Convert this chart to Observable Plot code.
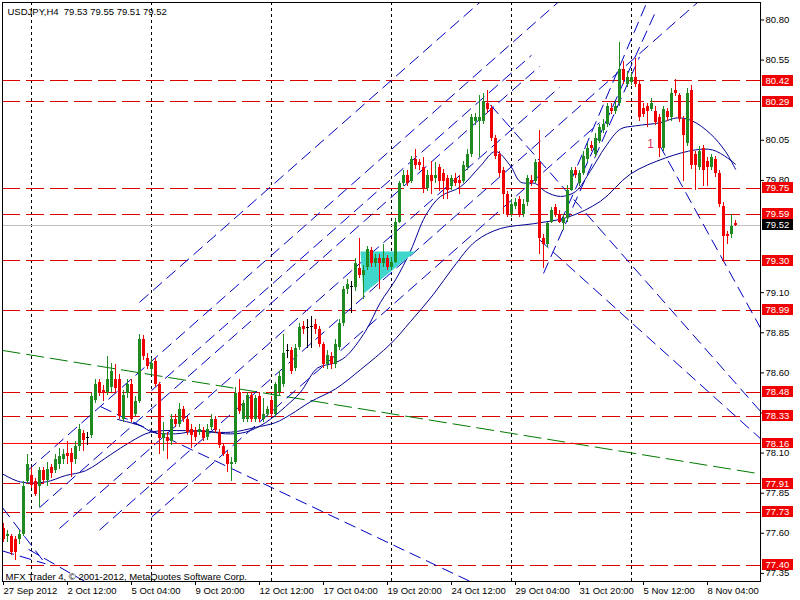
<!DOCTYPE html>
<html><head><meta charset="utf-8">
<script src="https://cdn.jsdelivr.net/npm/d3@7"></script>
<script src="https://cdn.jsdelivr.net/npm/@observablehq/plot@0.6"></script>
<style>body{margin:0;background:#fff}#chart svg{display:block}</style>
</head><body><div id="chart"></div>
<script>
// ---- DATA (H4 bars, bar index 0 = Mon 1 Oct 2012 00:00) ----
const firstBar = -7;
const opens = [77.63,77.58,77.58,77.56,77.56,77.59,77.92,
77.96,77.92,77.89,77.99,77.93,78.01,77.99,78.03,78.06,78.10,
78.10,78.06,78.14,78.22,78.20,78.21,78.43,78.54,78.49,78.48,
78.51,78.56,78.56,78.31,78.47,78.53,78.34,78.42,78.81,78.69,
78.62,78.67,78.53,78.19,78.20,78.17,78.31,78.28,78.37,78.31,
78.25,78.24,78.23,78.24,78.20,78.26,78.31,78.23,78.14,78.09,
78.03,78.04,78.48,78.31,78.31,78.46,78.31,78.45,78.31,78.34,
78.43,78.34,78.48,78.53,78.74,78.74,78.63,78.76,78.89,78.88,
78.89,78.90,78.87,78.78,78.65,78.70,78.65,78.76,78.91,79.12,
79.14,79.13,79.25,79.21,79.26,79.36,79.28,79.31,79.28,79.31,
79.26,79.29,79.54,79.78,79.83,79.79,79.93,79.91,79.88,79.75,
79.83,79.81,79.88,79.84,79.81,79.76,79.81,79.80,79.79,79.88,
79.96,80.17,80.17,80.17,80.28,80.25,80.06,79.96,79.86,79.71,
79.59,79.64,79.68,79.59,79.66,79.80,79.79,79.91,79.44,79.40,
79.54,79.63,79.59,79.53,79.56,79.74,79.86,79.78,79.84,79.93,
80.02,79.96,80.04,80.11,80.15,80.25,80.23,80.28,80.49,80.40,
80.41,80.44,80.40,80.25,80.26,80.24,80.23,80.19,80.00,80.23,
80.19,80.36,80.33,80.18,80.03,80.36,79.96,79.88,80.00,79.92,
79.88,79.93,79.84,79.64,79.46,79.46,79.53];
const highs = [77.66,77.62,77.59,77.58,77.62,77.92,78.09,
78.01,77.94,78.01,78.01,78.04,78.03,78.09,78.13,78.12,78.17,
78.13,78.17,78.28,78.24,78.23,78.47,78.56,78.56,78.52,78.70,
78.66,78.65,78.59,78.49,78.56,78.56,78.45,78.84,78.83,78.72,
78.69,78.69,78.54,78.29,78.23,78.34,78.34,78.41,78.39,78.33,
78.28,78.26,78.28,78.26,78.28,78.34,78.33,78.25,78.16,78.11,
78.07,78.51,78.56,78.43,78.48,78.48,78.46,78.47,78.44,78.39,
78.45,78.54,78.61,78.84,78.78,78.76,78.78,78.91,78.92,78.93,
78.95,78.93,78.89,78.79,78.74,78.73,78.81,78.93,79.14,79.18,
79.17,79.31,79.44,79.27,79.39,79.38,79.34,79.34,79.40,79.33,
79.32,79.56,79.79,79.86,79.86,79.95,79.99,79.93,79.94,79.86,
79.92,79.91,79.90,79.87,79.83,79.83,79.84,79.83,79.92,79.99,
80.21,80.22,80.33,80.34,80.36,80.27,80.08,79.98,79.88,79.73,
79.68,79.69,79.70,79.68,79.83,79.83,79.93,80.11,79.46,79.54,
79.63,79.65,79.61,79.59,79.77,79.88,79.88,79.86,79.98,80.03,
80.04,80.09,80.15,80.18,80.28,80.28,80.29,80.66,80.54,80.48,
80.47,80.56,80.42,80.28,80.28,80.31,80.26,80.21,80.26,80.25,
80.37,80.43,80.34,80.20,80.37,80.39,79.98,80.01,80.02,79.94,
79.96,79.95,79.86,79.66,79.48,79.59,79.55];
const lows = [77.54,77.54,77.46,77.43,77.53,77.58,77.91,
77.88,77.83,77.76,77.91,77.89,77.94,77.97,78.00,78.03,78.03,
77.95,78.03,78.11,78.11,78.15,78.19,78.41,78.45,78.42,78.46,
78.48,78.47,78.31,78.29,78.44,78.29,78.33,78.41,78.68,78.62,
78.59,78.51,78.09,78.11,78.06,78.15,78.26,78.26,78.29,78.21,
78.13,78.17,78.21,78.17,78.18,78.24,78.22,78.13,78.08,77.98,
77.92,78.03,78.34,78.29,78.29,78.29,78.29,78.29,78.29,78.32,
78.32,78.32,78.46,78.51,78.69,78.59,78.61,78.74,78.84,78.75,
78.75,78.84,78.76,78.63,78.62,78.62,78.63,78.74,78.89,79.09,
78.97,79.11,79.19,79.06,79.24,79.26,79.26,79.12,79.26,79.24,
79.24,79.28,79.53,79.76,79.76,79.78,79.87,79.86,79.72,79.73,
79.71,79.78,79.73,79.68,79.68,79.74,79.76,79.71,79.78,79.86,
79.94,80.14,79.94,80.15,80.22,80.04,79.93,79.82,79.59,79.57,
79.57,79.62,79.57,79.57,79.64,79.76,79.78,79.34,79.25,79.38,
79.53,79.57,79.53,79.49,79.54,79.73,79.81,79.76,79.83,79.91,
79.98,79.94,80.03,80.09,80.13,80.21,80.21,80.26,80.40,80.38,
80.39,80.38,80.17,80.19,80.13,80.23,80.14,79.94,79.98,80.17,
80.17,80.32,80.16,79.79,80.01,79.87,79.74,79.86,79.76,79.76,
79.86,79.82,79.63,79.29,79.40,79.44,79.51];
const closes = [77.56,77.59,77.48,77.48,77.59,77.89,78.03,
77.90,77.84,77.99,77.93,78.00,77.97,78.06,78.08,78.09,78.08,
78.04,78.14,78.25,78.18,78.20,78.45,78.53,78.48,78.47,78.56,
78.61,78.50,78.33,78.46,78.53,78.31,78.42,78.81,78.70,78.64,
78.66,78.53,78.19,78.22,78.17,78.31,78.28,78.37,78.31,78.23,
78.21,78.20,78.25,78.19,78.25,78.31,78.24,78.15,78.09,78.03,
78.04,78.47,78.36,78.41,78.46,78.31,78.44,78.31,78.34,78.37,
78.34,78.53,78.58,78.72,78.74,78.61,78.75,78.88,78.87,78.88,
78.89,78.87,78.78,78.65,78.71,78.65,78.78,78.91,79.12,79.15,
79.14,79.28,79.21,79.24,79.37,79.28,79.31,79.28,79.31,79.26,
79.29,79.54,79.78,79.83,79.78,79.93,79.89,79.89,79.75,79.83,
79.79,79.83,79.79,79.79,79.74,79.81,79.78,79.78,79.89,79.96,
80.19,80.19,80.19,80.29,80.24,80.06,79.95,79.84,79.71,79.59,
79.65,79.66,79.59,79.65,79.81,79.78,79.91,79.44,79.40,79.53,
79.61,79.59,79.54,79.56,79.74,79.86,79.83,79.84,79.95,80.00,
80.00,80.06,80.13,80.15,80.26,80.23,80.26,80.49,80.42,80.44,
80.44,80.40,80.19,80.21,80.23,80.28,80.16,80.00,80.24,80.19,
80.34,80.34,80.18,80.08,80.34,79.89,79.89,79.98,79.86,79.88,
79.94,79.84,79.65,79.45,79.45,79.51,79.52];

// x-axis labels (bar index -> text)
const dateBars = [-7, 9, 25, 41, 57, 73, 89, 105, 121, 137, 153, 169];
const dateLabels = ["27 Sep 2012","2 Oct 12:00","5 Oct 04:00","9 Oct 20:00","12 Oct 12:00","17 Oct 04:00",
  "19 Oct 20:00","24 Oct 12:00","29 Oct 04:00","31 Oct 20:00","5 Nov 12:00","8 Nov 04:00"];
const weekStartBars = [0, 30, 60, 90, 120, 150];
// right-axis price labels that are visible in the reference
const priceTicks = [80.80,80.55,80.05,79.80,79.10,78.85,78.60,78.35,78.10,77.85,77.60,77.35];

// horizontal levels
const dashedLevels = [80.42,80.29,79.75,79.59,79.30,78.99,78.48,78.33,77.91,77.73,77.40];
const solidLevels = [78.16];
const lastPrice = 79.52;

// blue dashed trend lines (bar, price) -> (bar, price)
const trendStartBar   = [27, -1, 30, 2, 7, 17, 30, 128, 132.25, 134.75, 114.75, 127, 157, 17.25, -7.25, -7.25, -0.75];
const trendStartPrice = [79.04, 77.99, 78.49, 77.76, 77.63, 77.62, 77.70, 79.22, 79.54, 79.79, 80.27, 79.43, 80.02, 78.39, 77.76, 77.49, 77.50];
const trendEndBar     = [113, 133, 125, 127, 132, 167, 142, 152, 156, 157.25, 182.25, 182.25, 182.25, 110.5, 3.5, 3.5, 14];
const trendEndPrice   = [80.93, 80.94, 80.58, 80.51, 80.38, 80.92, 80.16, 80.57, 80.85, 81.11, 78.36, 78.19, 78.88, 77.29, 77.41, 77.41, 77.29];
// green long trend line
const greenStartBar = [-7.25], greenStartPrice = [78.74], greenEndBar = [182.25], greenEndPrice = [77.97];

// moving averages
const maSlowBar = [-7.25,-2.75,3.5,8.5,13.5,19.75,24.75,29.75,38.5,49.75,56,61,64.75,69.75,76,82.25,89.75,94.75,100.5,105.5,111,117.25,125.5,134,142.25,149.75,158.5,166,170.25,174,176];
const maSlowPrice = [77.97,77.92,77.92,77.96,77.99,78.09,78.17,78.23,78.24,78.23,78.26,78.29,78.34,78.42,78.50,78.62,78.78,78.92,79.09,79.26,79.42,79.50,79.53,79.57,79.67,79.84,79.94,79.99,79.99,79.94,79.90];
const maFastBar = [21.5,27.25,30.25,36,42.25,48.5,53.5,58.5,63.5,67.25,71.5,75.5,78.5,83.5,87.25,91,94.75,98.5,102.25,107.25,112.25,116,119.75,122.25,126,128.5,132.25,136,139.75,143.5,147.25,151,157.25,161.5,165.25,169.75,173.5,176];
const maFastPrice = [78.31,78.27,78.23,78.22,78.24,78.22,78.23,78.29,78.39,78.48,78.63,78.66,78.70,78.86,79.04,79.18,79.36,79.58,79.70,79.76,79.89,79.98,79.89,79.79,79.78,79.73,79.70,79.73,79.86,80.01,80.12,80.14,80.16,80.19,80.17,80.09,79.98,79.87];

// cyan triangle
const triBar = [82.25, 96, 83];
const triPrice = [79.357, 79.357, 79.094];

const noteBar = [154.75], notePrice = [80.025], noteText = ["1"];
const titleText = "USDJPY,H4  79.53 79.55 79.51 79.52";
const copyText = "MFX Trader 4, \u00a9 2001-2012, MetaQuotes Software Corp.";

// ---- build tables ----
const candles = opens.map((o, k) => ({bar: firstBar + k, open: o, high: highs[k], low: lows[k], close: closes[k]}));
const upC = "#1f8a1f", downC = "#f00000";
const col = d => d.close > d.open ? upC : d.close < d.open ? downC : "#000000";
const bodies = candles.filter(d => d.close !== d.open);
const dojis = candles.filter(d => d.close === d.open);
const trends = trendStartBar.map((b, k) => ({x1: b, y1: trendStartPrice[k], x2: trendEndBar[k], y2: trendEndPrice[k]}));
const greens = greenStartBar.map((b, k) => ({x1: b, y1: greenStartPrice[k], x2: greenEndBar[k], y2: greenEndPrice[k]}));
const maSlow = maSlowBar.map((b, k) => ({bar: b, price: maSlowPrice[k]}));
const maFast = maFastBar.map((b, k) => ({bar: b, price: maFastPrice[k]}));
const tri = triBar.map((b, k) => ({bar: b, price: triPrice[k]}));
const notes = noteBar.map((b, k) => ({bar: b, price: notePrice[k], text: noteText[k]}));
const labelMap = new Map(dateBars.map((b, k) => [b, dateLabels[k]]));
const xMin = -7.25, xMax = 182.25;
const boxHalf = 0.034;
const allLevels = [...dashedLevels, ...solidLevels];
const solidRows = solidLevels.map(p => ({x1: xMin, x2: xMax, y: p}));

const chart = Plot.plot({
  width: 800, height: 600,
  marginLeft: 2, marginRight: 40, marginTop: 2, marginBottom: 19,
  style: {fontFamily: "'Liberation Sans', Arial, sans-serif", fontSize: "9.5px", background: "#ffffff", color: "#000000"},
  x: {domain: [xMin, xMax]},
  y: {domain: [77.2995, 80.909]},
  marks: [
    Plot.ruleX(weekStartBars, {stroke: "#000", strokeDasharray: "3,3", shapeRendering: "crispEdges"}),
    Plot.ruleY(dashedLevels, {stroke: "#dd0000", strokeDasharray: "18,6", shapeRendering: "crispEdges"}),
    Plot.ruleY([lastPrice], {stroke: "#c0c0c0", shapeRendering: "crispEdges"}),
    Plot.link(greens, {x1: "x1", y1: "y1", x2: "x2", y2: "y2", stroke: "#007a00", strokeWidth: 1, strokeDasharray: "18,6", clip: true}),
    Plot.link(trends, {x1: "x1", y1: "y1", x2: "x2", y2: "y2", stroke: "#0000c0", strokeWidth: 1, strokeDasharray: "12,6", clip: true}),
    Plot.line(maSlow, {x: "bar", y: "price", stroke: "#000090", strokeWidth: 1, curve: "catmull-rom", clip: true}),
    Plot.line(maFast, {x: "bar", y: "price", stroke: "#000090", strokeWidth: 1, curve: "catmull-rom", clip: true}),
    Plot.line(tri, {x: "bar", y: "price", fill: "#3fd6cc", stroke: "none"}),
    Plot.link(solidRows, {x1: "x1", x2: "x2", y1: "y", y2: "y", stroke: "red", strokeWidth: 1}),
    Plot.ruleX(candles, {x: "bar", y1: "low", y2: "high", stroke: col, shapeRendering: "crispEdges"}),
    Plot.rect(bodies, {x1: d => d.bar - 0.375, x2: d => d.bar + 0.375, y1: "open", y2: "close", fill: col, shapeRendering: "crispEdges"}),
    Plot.link(dojis, {x1: d => d.bar - 0.375, x2: d => d.bar + 0.375, y1: "open", y2: "open", stroke: "#000", shapeRendering: "crispEdges"}),
    Plot.text(notes, {x: "bar", y: "price", text: "text", fill: "#e0305a", fontSize: 12}),
    Plot.text([titleText], {frameAnchor: "top-left", dx: 5, dy: 5.5, lineAnchor: "top", textAnchor: "start", fill: "#000"}),
    Plot.text([copyText], {frameAnchor: "bottom-left", dx: 3, dy: -5, lineAnchor: "middle", textAnchor: "start", fill: "#000"}),
    Plot.axisX(dateBars, {anchor: "bottom", tickSize: 4, tickPadding: 2, textAnchor: "start", dx: 0, tickFormat: d => labelMap.get(d), label: null}),
    Plot.axisY(priceTicks, {anchor: "right", tickSize: 3, tickPadding: 2, tickFormat: d => d.toFixed(2), label: null}),
    Plot.rect(allLevels, {x1: xMax + 0.5, x2: xMax + 8.25, y1: d => d - boxHalf, y2: d => d + boxHalf, fill: "#f00000", shapeRendering: "crispEdges"}),
    Plot.text(allLevels, {x: xMax, y: d => d, text: d => d.toFixed(2), dx: 5, textAnchor: "start", fill: "#ffffff"}),
    Plot.rect([lastPrice], {x1: xMax + 0.5, x2: xMax + 8.25, y1: d => d - boxHalf, y2: d => d + boxHalf, fill: "#000000", shapeRendering: "crispEdges"}),
    Plot.text([lastPrice], {x: xMax, y: d => d, text: d => d.toFixed(2), dx: 5, textAnchor: "start", fill: "#ffffff"}),
    Plot.frame({stroke: "#000", shapeRendering: "crispEdges"})
  ]
});
document.getElementById("chart").appendChild(chart);
</script>
</body></html>
